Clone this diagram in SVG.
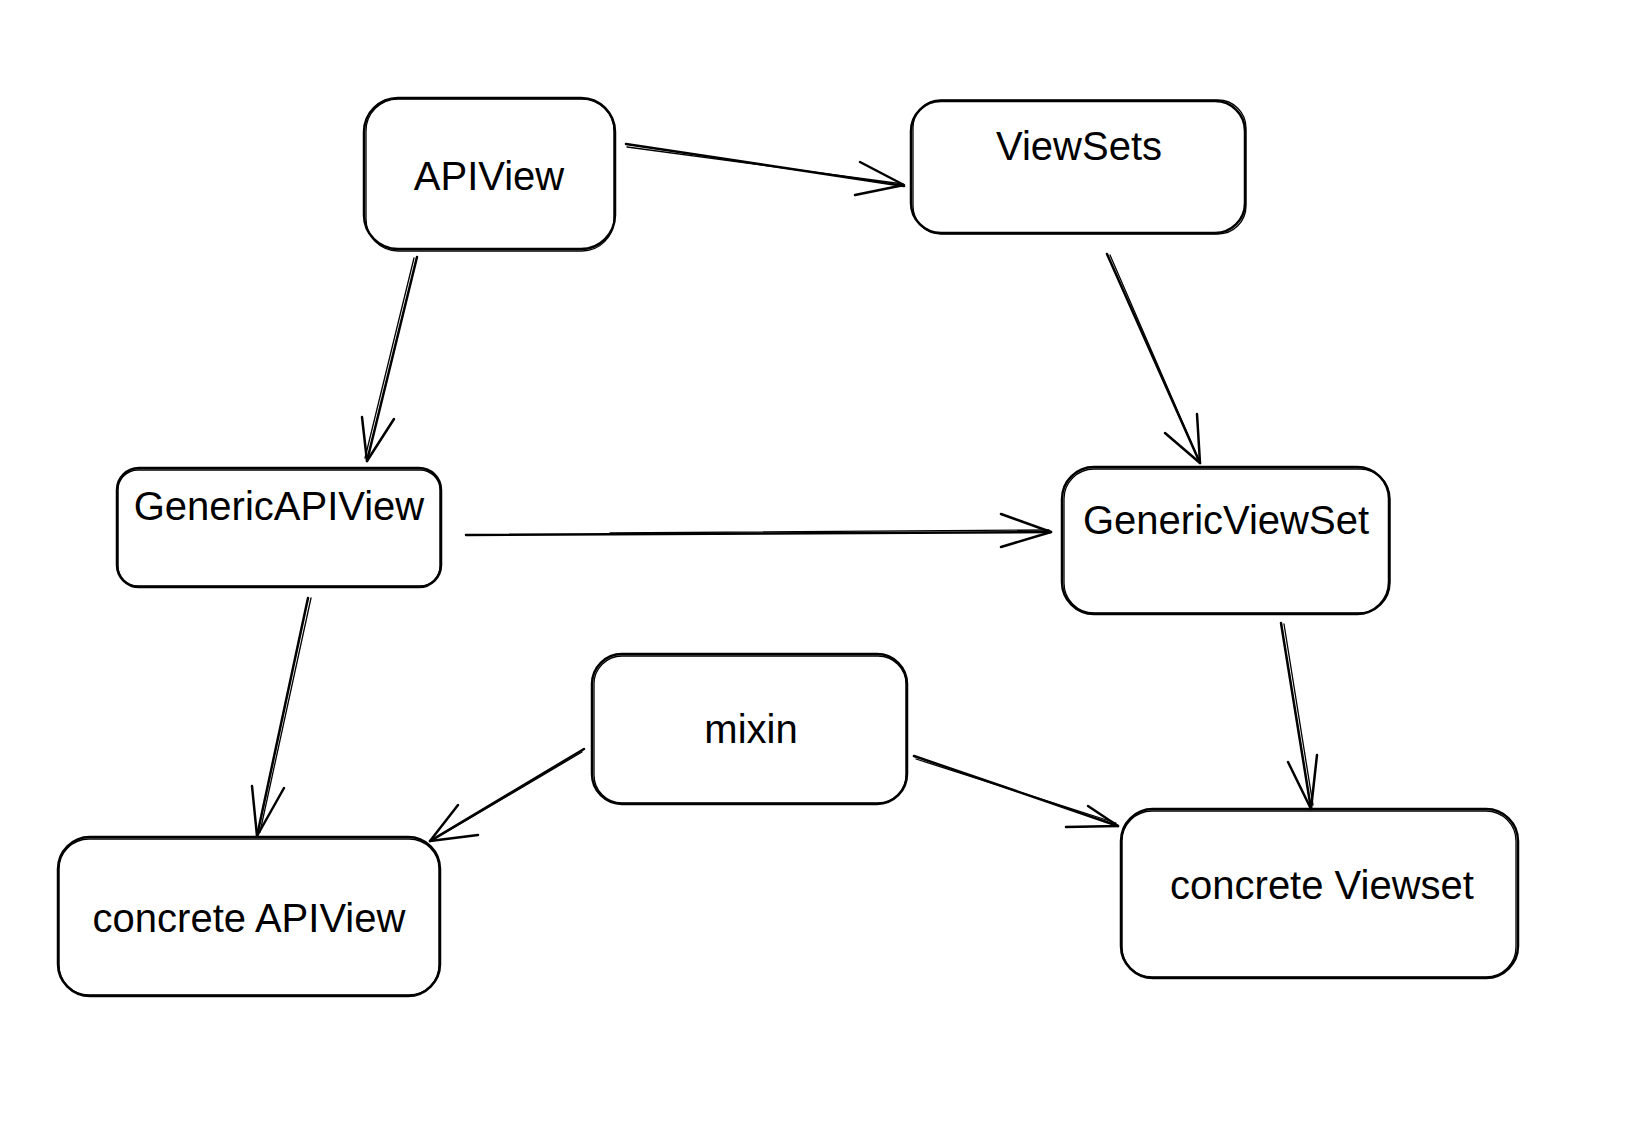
<svg xmlns="http://www.w3.org/2000/svg" width="1644" height="1122" viewBox="0 0 1644 1122">
<style>
.b{fill:none;stroke:#000;stroke-width:2.5;stroke-linecap:round;stroke-linejoin:round}
.b2{fill:none;stroke:#000;stroke-width:1.3;stroke-linecap:round;stroke-linejoin:round}
.t{font-family:"Liberation Sans",Arial,Helvetica,sans-serif;font-size:40px;fill:#000;text-anchor:middle}
</style>
<rect width="1644" height="1122" fill="#fff"/>
<g id="connectors">
  <g id="e1"><path class="b" d="M626 144 L904 186"/><path class="b2" d="M627 147 L903 184"/><path class="b" d="M860 162 L904 185 L855 195"/></g>
  <g id="e2"><path class="b" d="M417 257 L367 461"/><path class="b2" d="M414 258 L365 458"/><path class="b" d="M362 417 L367 461 L394 419"/></g>
  <g id="e3"><path class="b" d="M1107 254 L1200 463"/><path class="b2" d="M1110 255 L1198 458"/><path class="b" d="M1165 433 L1200 463 L1197 414"/></g>
  <g id="e4"><path class="b" d="M466 535 L1051 532"/><path class="b2" d="M610 533 L1049 530"/><path class="b" d="M1001 514 L1051 532 L1001 547"/></g>
  <g id="e5"><path class="b" d="M308 598 L257 836"/><path class="b2" d="M311 598 L260 832"/><path class="b" d="M252 786 L257 836 L284 788"/></g>
  <g id="e6"><path class="b" d="M1281 623 L1311 809"/><path class="b2" d="M1284 624 L1313 805"/><path class="b" d="M1288 762 L1311 809 L1317 755"/></g>
  <g id="e7"><path class="b" d="M584 749 L430 841"/><path class="b2" d="M582 752 L433 840"/><path class="b" d="M458 805 L430 841 L478 835"/></g>
  <g id="e8"><path class="b" d="M914 756 L1118 826"/><path class="b2" d="M916 759 L1116 823"/><path class="b" d="M1088 806 L1118 826 L1066 827"/></g>
</g>
<g id="n-apiview">
  <rect class="b" x="364" y="98" width="251" height="151" rx="34"/>
  <rect class="b2" x="366" y="99" width="248" height="152" rx="32"/>
  <text class="t" x="489" y="190">APIView</text>
</g>
<g id="n-viewsets">
  <rect class="b" x="911" y="101" width="334" height="132" rx="30"/>
  <rect class="b2" x="913" y="100" width="333" height="134" rx="28"/>
  <text class="t" x="1079" y="160">ViewSets</text>
</g>
<g id="n-genericapiview">
  <rect class="b" x="117" y="468" width="324" height="119" rx="22"/>
  <rect class="b2" x="118" y="470" width="322" height="116" rx="20"/>
  <text class="t" x="279" y="520">GenericAPIView</text>
</g>
<g id="n-genericviewset">
  <rect class="b" x="1062" y="467" width="327" height="147" rx="32"/>
  <rect class="b2" x="1064" y="469" width="326" height="144" rx="30"/>
  <text class="t" x="1226" y="534">GenericViewSet</text>
</g>
<g id="n-mixin">
  <rect class="b" x="592" y="654" width="315" height="150" rx="30"/>
  <rect class="b2" x="594" y="656" width="312" height="147" rx="28"/>
  <text class="t" x="751" y="743">mixin</text>
</g>
<g id="n-concrete-apiview">
  <rect class="b" x="58" y="837" width="382" height="159" rx="32"/>
  <rect class="b2" x="59" y="839" width="380" height="156" rx="30"/>
  <text class="t" x="249" y="932">concrete APIView</text>
</g>
<g id="n-concrete-viewset">
  <rect class="b" x="1121" y="809" width="397" height="169" rx="32"/>
  <rect class="b2" x="1122" y="811" width="394" height="166" rx="30"/>
  <text class="t" x="1322" y="899">concrete Viewset</text>
</g>
</svg>
